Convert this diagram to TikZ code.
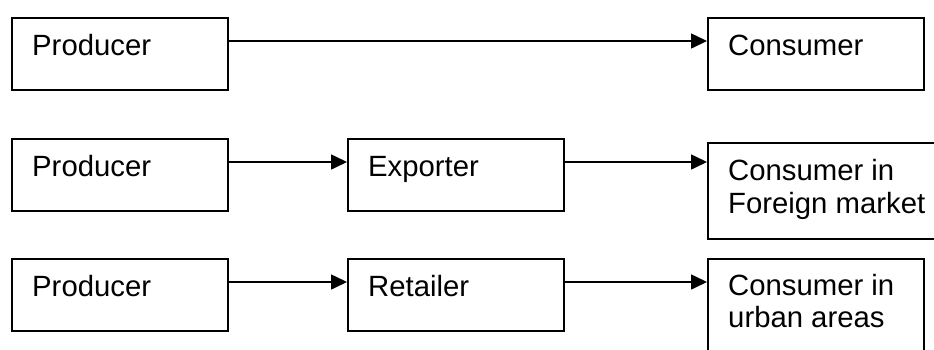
\documentclass[tikz,border=0pt]{standalone}
\usepackage{fontspec}
\setmainfont{Liberation Sans}
\usetikzlibrary{arrows.meta}

\begin{document}
\begin{tikzpicture}[x=1pt,y=-1pt,
  box/.style={draw=black, line width=1.6pt, minimum width=216pt,
    minimum height=72pt, anchor=north west, inner sep=0pt},
  txt/.style={anchor=base west, inner sep=0pt, font=\fontsize{29.3}{33}\selectfont},
  flow/.style={line width=1.6pt, -{Triangle[length=16pt,width=15pt]}}]
  \useasboundingbox (0,0) rectangle (934,349);
  \clip (0,0) rectangle (934,349);

  % direct channel
  \node[box] (p1) at (11,17) {};
  \node[box] (c1) at (707,17) {};
  \node[txt] (p1t) at ([shift={(21,38)}]p1.north west) {Producer};
  \node[txt] (c1t) at ([shift={(21,38)}]c1.north west) {Consumer};
  \draw[flow] ([yshift=-24pt]p1.north east) -- ([yshift=-24pt]p1.north east -| c1.west);

  % export channel
  \node[box] (p2) at (11,138) {};
  \node[box] (e2) at (347,138) {};
  \node[box, minimum width=240pt, minimum height=96pt] (f2) at (707,142) {};
  \node[txt] (p2t) at ([shift={(21,38)}]p2.north west) {Producer};
  \node[txt] (e2t) at ([shift={(21,38)}]e2.north west) {Exporter};
  \node[txt] (f2t) at ([shift={(21,38)}]f2.north west) {Consumer in};
  \node[txt] (f2u) at ([shift={(21,71)}]f2.north west) {Foreign market};
  \draw[flow] ([yshift=-24pt]p2.north east) -- ([yshift=-24pt]p2.north east -| e2.west);
  \draw[flow] ([yshift=-24pt]e2.north east) -- ([yshift=-24pt]e2.north east -| f2.west);

  % retail channel
  \node[box] (p3) at (11,258) {};
  \node[box] (r3) at (347,258) {};
  \node[box, minimum height=110pt] (u3) at (707,258) {};
  \node[txt] (p3t) at ([shift={(21,38)}]p3.north west) {Producer};
  \node[txt] (r3t) at ([shift={(21,38)}]r3.north west) {Retailer};
  \node[txt] (u3t) at ([shift={(21,37)}]u3.north west) {Consumer in};
  \node[txt] (u3u) at ([shift={(21,69)}]u3.north west) {urban areas};
  \draw[flow] ([yshift=-24pt]p3.north east) -- ([yshift=-24pt]p3.north east -| r3.west);
  \draw[flow] ([yshift=-24pt]r3.north east) -- ([yshift=-24pt]r3.north east -| u3.west);
\end{tikzpicture}
\end{document}
